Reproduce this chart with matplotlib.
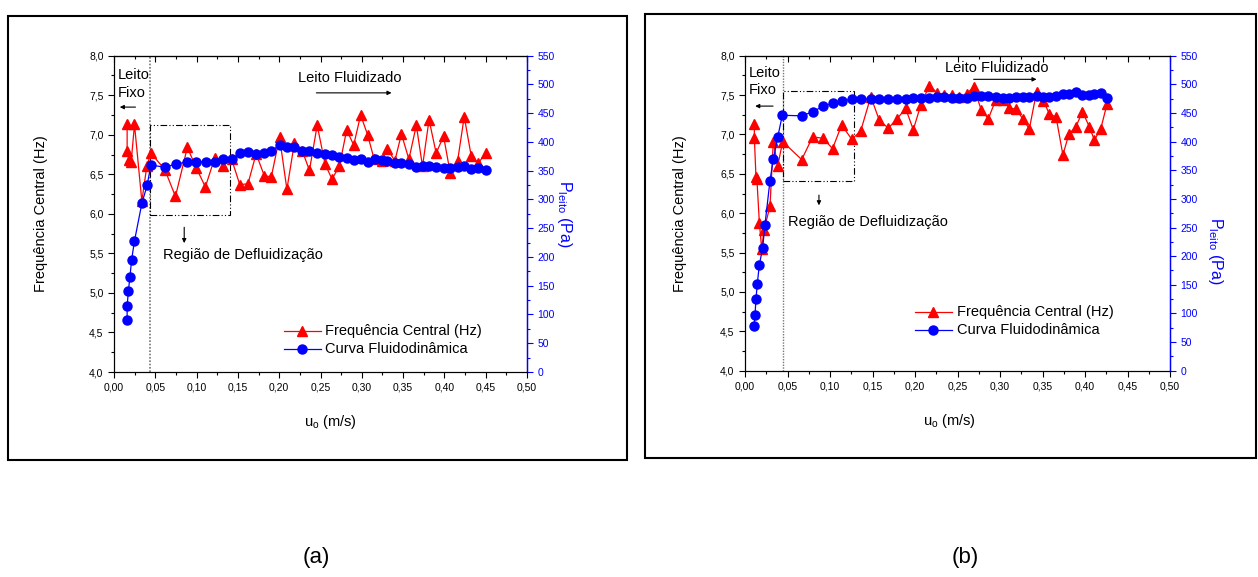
import matplotlib
matplotlib.use("Agg")
import matplotlib.pyplot as plt
from matplotlib.ticker import MultipleLocator, FuncFormatter
from matplotlib.patches import Rectangle

plt.rcParams['font.family'] = ['Liberation Sans', 'DejaVu Sans']
plt.rcParams['mathtext.fontset'] = 'custom'
plt.rcParams['mathtext.rm'] = 'Liberation Sans'
plt.rcParams['mathtext.it'] = 'Liberation Sans'

# ---------------- Panel (a) data ----------------
a_freq_u = [0.0159, 0.0159, 0.0180, 0.0208, 0.0248, 0.0337, 0.0397, 0.0446, 0.0615, 0.0744,
            0.0888, 0.0997, 0.1106, 0.1220, 0.1324, 0.1424, 0.1523, 0.1622, 0.1721, 0.1820,
            0.1905, 0.2004, 0.2093, 0.2183, 0.2282, 0.2366, 0.2460, 0.2555, 0.2639, 0.2728,
            0.2817, 0.2902, 0.2986, 0.3070, 0.3150, 0.3240, 0.3310, 0.3400, 0.3480, 0.3570,
            0.3660, 0.3735, 0.3814, 0.3900, 0.3990, 0.4070, 0.4160, 0.4240, 0.4325, 0.4410,
            0.4500]
a_freq = [7.14, 6.79, 6.68, 6.66, 7.13, 6.16, 6.60, 6.77, 6.56, 6.22,
          6.84, 6.58, 6.34, 6.71, 6.61, 6.69, 6.37, 6.38, 6.76, 6.48,
          6.47, 6.97, 6.31, 6.89, 6.79, 6.55, 7.12, 6.63, 6.44, 6.60,
          7.06, 6.87, 7.25, 7.00, 6.69, 6.67, 6.82, 6.67, 7.01, 6.69,
          7.12, 6.60, 7.19, 6.77, 6.98, 6.52, 6.67, 7.23, 6.73, 6.64,
          6.77]
a_pres_u = [0.0159, 0.0159, 0.0174, 0.0193, 0.0213, 0.0248, 0.0337, 0.0402, 0.0446, 0.0615,
            0.0754, 0.0888, 0.0997, 0.1110, 0.1220, 0.1324, 0.1424, 0.1523, 0.1622, 0.1721,
            0.1820, 0.1905, 0.2004, 0.2093, 0.2183, 0.2277, 0.2366, 0.2460, 0.2550, 0.2639,
            0.2728, 0.2817, 0.2902, 0.2986, 0.3070, 0.3155, 0.3240, 0.3310, 0.3400, 0.3480,
            0.3570, 0.3660, 0.3735, 0.3814, 0.3900, 0.3990, 0.4070, 0.4160, 0.4240, 0.4325,
            0.4410, 0.4500]
a_pres = [91, 114, 141, 165, 195, 228, 293, 325, 360, 356,
          362, 365, 366, 365, 365, 371, 370, 380, 383, 379,
          381, 385, 394, 391, 392, 384, 385, 381, 379, 377,
          374, 372, 369, 371, 365, 370, 368, 367, 364, 364,
          362, 356, 359, 358, 357, 354, 354, 356, 359, 353,
          354, 352]

# ---------------- Panel (b) data ----------------
b_freq_u = [0.0110, 0.0110, 0.0129, 0.0140, 0.0169, 0.0196, 0.0225, 0.0294, 0.0333, 0.0385,
            0.0443, 0.0667, 0.0796, 0.0921, 0.1030, 0.1137, 0.1255, 0.1360, 0.1480, 0.1580,
            0.1686, 0.1790, 0.1890, 0.1980, 0.2067, 0.2168, 0.2260, 0.2340, 0.2430, 0.2520,
            0.2610, 0.2690, 0.2780, 0.2863, 0.2950, 0.3030, 0.3106, 0.3190, 0.3267, 0.3345,
            0.3430, 0.3510, 0.3580, 0.3660, 0.3740, 0.3812, 0.3890, 0.3970, 0.4050, 0.4110,
            0.4185, 0.4260]
b_freq = [7.13, 6.96, 6.46, 6.43, 5.88, 5.55, 5.79, 6.09, 6.91, 6.60,
          6.91, 6.68, 6.97, 6.95, 6.82, 7.12, 6.94, 7.04, 7.48, 7.18,
          7.08, 7.20, 7.33, 7.06, 7.37, 7.62, 7.53, 7.50, 7.50, 7.48,
          7.52, 7.60, 7.31, 7.20, 7.44, 7.44, 7.34, 7.32, 7.20, 7.07,
          7.54, 7.43, 7.26, 7.22, 6.74, 7.01, 7.09, 7.29, 7.10, 6.93,
          7.07, 7.39]
b_pres_u = [0.0106, 0.0118, 0.0129, 0.0145, 0.0168, 0.0208, 0.0235, 0.0294, 0.0333, 0.0385,
            0.0439, 0.0667, 0.0796, 0.0921, 0.1030, 0.1137, 0.1255, 0.1360, 0.1480, 0.1580,
            0.1686, 0.1790, 0.1890, 0.1980, 0.2067, 0.2168, 0.2260, 0.2340, 0.2430, 0.2520,
            0.2610, 0.2690, 0.2780, 0.2863, 0.2950, 0.3030, 0.3106, 0.3190, 0.3267, 0.3345,
            0.3430, 0.3510, 0.3580, 0.3660, 0.3740, 0.3812, 0.3890, 0.3970, 0.4050, 0.4110,
            0.4185, 0.4260]
b_pres = [78, 98, 125, 152, 184, 215, 255, 332, 369, 408,
          446, 445, 452, 462, 467, 471, 474, 474, 475, 475,
          475, 475, 475, 476, 477, 477, 478, 478, 477, 476,
          477, 479, 479, 479, 478, 477, 477, 478, 478, 478,
          479, 478, 478, 479, 483, 483, 486, 481, 481, 483,
          485, 476]

legend_freq = "Frequência Central (Hz)"
legend_pres = "Curva Fluidodinâmica"

RED = '#ff0000'
BLUE = '#0000ff'
W, H = 1258, 577

fig = plt.figure(figsize=(W / 100, H / 100), dpi=100)


def px_axes(x0, x1, ytop, ybot):
    return fig.add_axes([x0 / W, (H - ybot) / H, (x1 - x0) / W, (ybot - ytop) / H])


def setup(ax, ax2):
    ax.set_xlim(0, 0.5)
    ax.set_ylim(4.0, 8.0)
    ax2.set_ylim(0, 550)
    ax.xaxis.set_major_locator(MultipleLocator(0.05))
    ax.xaxis.set_minor_locator(MultipleLocator(0.025))
    ax.yaxis.set_major_locator(MultipleLocator(0.5))
    ax.yaxis.set_minor_locator(MultipleLocator(0.25))
    ax2.yaxis.set_major_locator(MultipleLocator(50))
    ax2.yaxis.set_minor_locator(MultipleLocator(25))
    ax.xaxis.set_major_formatter(FuncFormatter(lambda v, p: f"{v:.2f}".replace('.', ',')))
    ax.yaxis.set_major_formatter(FuncFormatter(lambda v, p: f"{v:.1f}".replace('.', ',')))
    ax.tick_params(which='both', direction='out', labelsize=7.5, width=0.8, top=False, right=False)
    ax.tick_params(which='major', length=4)
    ax.tick_params(which='minor', length=2.5)
    ax2.tick_params(which='both', direction='out', labelsize=7.5, width=0.8,
                    colors=BLUE, labelcolor=BLUE)
    ax2.tick_params(which='major', length=4)
    ax2.tick_params(which='minor', length=2.5)
    ax2.spines['right'].set_color(BLUE)
    ax2.spines['right'].set_linewidth(1.0)
    for s in ['left', 'top', 'bottom']:
        ax.spines[s].set_linewidth(0.8)
    top = ax.secondary_xaxis('top')
    top.xaxis.set_major_locator(MultipleLocator(0.05))
    top.xaxis.set_minor_locator(MultipleLocator(0.025))
    top.tick_params(which='both', direction='in', labeltop=False, width=0.8)
    top.tick_params(which='major', length=4)
    top.tick_params(which='minor', length=2.5)
    top.set_xticklabels([])


def draw_panel(ax, ax2, fu, fv, pu, pv):
    l1, = ax.plot(fu, fv, color=RED, lw=0.9, marker='^', ms=7, mec=RED, mfc=RED, zorder=3)
    l2, = ax2.plot(pu, pv, color=BLUE, lw=0.9, marker='o', ms=6.5, mec=BLUE, mfc=BLUE, zorder=4)
    return l1, l2


def arrow(ax, x0, y0, x1, y1):
    ax.annotate('', xy=(x1, y1), xytext=(x0, y0),
                arrowprops=dict(arrowstyle='-|>', color='black', lw=0.8,
                                mutation_scale=6, shrinkA=0, shrinkB=0))


def legend_manual(ax, xl0, xl1, xt, y1, y2):
    ax.plot([xl0, xl1], [y1, y1], color=RED, lw=0.9)
    ax.plot([(xl0 + xl1) / 2], [y1], marker='^', ms=7, color=RED)
    ax.text(xt, y1, legend_freq, fontsize=10.5, va='center', ha='left')
    ax.plot([xl0, xl1], [y2, y2], color=BLUE, lw=0.9)
    ax.plot([(xl0 + xl1) / 2], [y2], marker='o', ms=6.5, color=BLUE)
    ax.text(xt, y2, legend_pres, fontsize=10.5, va='center', ha='left')


dashdot = (0, (6, 2, 1, 2, 1, 2))

# ---------------- Panel (a) ----------------
axa = px_axes(114, 527, 55.7, 372)
axa2 = axa.twinx()
setup(axa, axa2)
draw_panel(axa, axa2, a_freq_u, a_freq, a_pres_u, a_pres)
axa.axvline(0.0437, color='#777777', lw=1.2, ls=(0, (1, 1)), zorder=2)
axa.add_patch(Rectangle((0.0437, 5.98), 0.141 - 0.0437, 7.12 - 5.98, fill=False,
                        ec='black', lw=0.8, ls=dashdot, zorder=2))
axa.text(0.004, 7.76, 'Leito', fontsize=10.5, va='center', ha='left')
axa.text(0.004, 7.53, 'Fixo', fontsize=10.5, va='center', ha='left')
arrow(axa, 0.026, 7.35, 0.007, 7.35)
axa.text(0.285, 7.72, 'Leito Fluidizado', fontsize=10.5, va='center', ha='center')
arrow(axa, 0.245, 7.53, 0.336, 7.53)
axa.text(0.059, 5.48, 'Região de Defluidização', fontsize=10.5, va='center', ha='left')
arrow(axa, 0.085, 5.83, 0.085, 5.63)
legend_manual(axa, 0.206, 0.250, 0.255, 4.52, 4.29)
axa.set_ylabel('Frequência Central (Hz)', fontsize=10.5)
axa.yaxis.set_label_coords(-0.16, 0.5)
axa.set_xlabel(r'u$_{\mathrm{o}}$ (m/s)', fontsize=10.5)
axa.xaxis.set_label_coords(0.523, -0.13)
axa2.set_ylabel(r'P$_{\mathrm{leito}}$ (Pa)', fontsize=11.5, color=BLUE, rotation=270, va='center')
axa2.yaxis.set_label_coords(1.092, 0.5)

# ---------------- Panel (b) ----------------
axb = px_axes(745, 1170, 55.7, 370.7)
axb2 = axb.twinx()
setup(axb, axb2)
draw_panel(axb, axb2, b_freq_u, b_freq, b_pres_u, b_pres)
axb.axvline(0.0443, color='#777777', lw=1.0, ls=(0, (1, 1)), zorder=2)
axb.add_patch(Rectangle((0.0443, 6.41), 0.1286 - 0.0443, 7.55 - 6.41, fill=False,
                        ec='black', lw=0.8, ls=dashdot, zorder=2))
axb.text(0.005, 7.78, 'Leito', fontsize=10.5, va='center', ha='left')
axb.text(0.005, 7.56, 'Fixo', fontsize=10.5, va='center', ha='left')
arrow(axb, 0.033, 7.36, 0.012, 7.36)
axb.text(0.296, 7.84, 'Leito Fluidizado', fontsize=10.5, va='center', ha='center')
arrow(axb, 0.269, 7.70, 0.343, 7.70)
axb.text(0.051, 5.89, 'Região de Defluidização', fontsize=10.5, va='center', ha='left')
arrow(axb, 0.087, 6.23, 0.087, 6.10)
legend_manual(axb, 0.200, 0.243, 0.249, 4.745, 4.52)
axb.set_ylabel('Frequência Central (Hz)', fontsize=10.5)
axb.yaxis.set_label_coords(-0.136, 0.5)
axb.set_xlabel(r'u$_{\mathrm{o}}$ (m/s)', fontsize=10.5)
axb.xaxis.set_label_coords(0.482, -0.131)
axb2.set_ylabel(r'P$_{\mathrm{leito}}$ (Pa)', fontsize=11.5, color=BLUE, rotation=270, va='center')
axb2.yaxis.set_label_coords(1.106, 0.38)

# ---------------- Outer frames and panel labels ----------------
fig.patches.append(Rectangle((8 / W, (H - 460) / H), 619 / W, 444 / H, transform=fig.transFigure,
                             fill=False, ec='black', lw=1.5))
fig.patches.append(Rectangle((645 / W, (H - 458) / H), 611 / W, 444 / H, transform=fig.transFigure,
                             fill=False, ec='black', lw=1.5))
fig.text(316 / W, (H - 557) / H, '(a)', fontsize=16, ha='center', va='center')
fig.text(965 / W, (H - 557) / H, '(b)', fontsize=16, ha='center', va='center')

fig.savefig('out.png', dpi=100)
